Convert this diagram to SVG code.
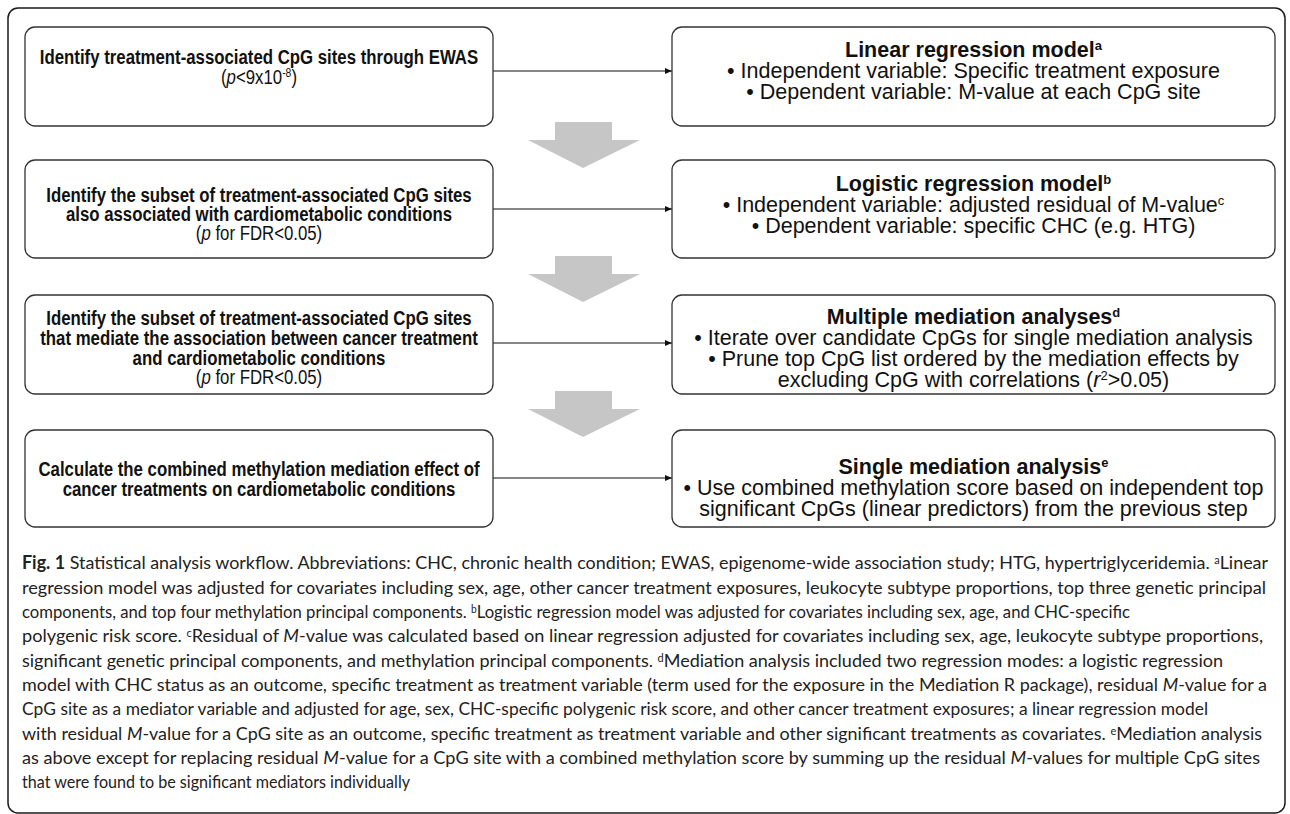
<svg xmlns="http://www.w3.org/2000/svg" width="1290" height="814" viewBox="0 0 1290 814">
<style>
.frame{fill:none;stroke:#1a1a1a;stroke-width:1.5}
.box{fill:#fff;stroke:#333;stroke-width:1.3}
.t{font-family:"Liberation Sans",Arial,sans-serif;font-size:21px;fill:#111;text-anchor:middle}
.r{font-size:21.5px}
.b{font-weight:bold}
.conn{stroke:#111;stroke-width:1.2;fill:none}
.flow{fill:#c6c6c6}
.cap{font-family:Lato,"Liberation Sans",sans-serif;font-size:18px;fill:#222}
</style>
<defs>
<marker id="ah" markerWidth="8" markerHeight="8" refX="7" refY="4" orient="auto" markerUnits="userSpaceOnUse"><path d="M0,1 L7,4 L0,7 Z" fill="#111"/></marker>
</defs>
<rect class="frame" x="8" y="8" width="1277" height="805" rx="10"/>

<g id="flow-arrows">
<polygon class="flow" points="555,122 612,122 612,140 640,140 583,168 528,140 555,140"/>
<polygon class="flow" points="555,256 612,256 612,274 640,274 583,302 528,274 555,274"/>
<polygon class="flow" points="555,391 612,391 612,409 640,409 583,437 528,409 555,409"/>
</g>

<g id="connectors">
<line class="conn" x1="493" y1="71" x2="672" y2="71" marker-end="url(#ah)"/>
<line class="conn" x1="493" y1="209" x2="672" y2="209" marker-end="url(#ah)"/>
<line class="conn" x1="493" y1="343" x2="672" y2="343" marker-end="url(#ah)"/>
<line class="conn" x1="493" y1="478" x2="672" y2="478" marker-end="url(#ah)"/>
</g>

<g id="step1">
<rect class="box" x="25" y="27" width="468" height="99" rx="10"/>
<g transform="translate(259,0) scale(0.8,1)">
<text class="t b" x="0" y="64">Identify treatment-associated CpG sites through EWAS</text>
<text class="t" x="0" y="84">(<tspan font-style="italic">p</tspan>&lt;9x10<tspan font-size="13" dy="-7">-8</tspan><tspan dy="7">)</tspan></text>
</g>
</g>
<g id="model1">
<rect class="box" x="672" y="27" width="603" height="99" rx="10"/>
<text class="t r b" x="973.5" y="57">Linear regression model<tspan font-size="13" dy="-7">a</tspan></text>
<text class="t r" x="973.5" y="78">• Independent variable: Specific treatment exposure</text>
<text class="t r" x="973.5" y="99">• Dependent variable: M-value at each CpG site</text>
</g>

<g id="step2">
<rect class="box" x="25" y="160" width="468" height="98" rx="10"/>
<g transform="translate(259,0) scale(0.8,1)">
<text class="t b" x="0" y="202">Identify the subset of treatment-associated CpG sites</text>
<text class="t b" x="0" y="221">also associated with cardiometabolic conditions</text>
<text class="t" x="0" y="240">(<tspan font-style="italic">p</tspan> for FDR&lt;0.05)</text>
</g>
</g>
<g id="model2">
<rect class="box" x="672" y="160" width="603" height="98" rx="10"/>
<text class="t r b" x="973.5" y="191">Logistic regression model<tspan font-size="13" dy="-7">b</tspan></text>
<text class="t r" x="973.5" y="212">• Independent variable: adjusted residual of M-value<tspan font-size="13" dy="-7">c</tspan></text>
<text class="t r" x="973.5" y="233">• Dependent variable: specific CHC (e.g. HTG)</text>
</g>

<g id="step3">
<rect class="box" x="25" y="295" width="468" height="99" rx="10"/>
<g transform="translate(259,0) scale(0.8,1)">
<text class="t b" x="0" y="325">Identify the subset of treatment-associated CpG sites</text>
<text class="t b" x="0" y="345">that mediate the association between cancer treatment</text>
<text class="t b" x="0" y="365">and cardiometabolic conditions</text>
<text class="t" x="0" y="384">(<tspan font-style="italic">p</tspan> for FDR&lt;0.05)</text>
</g>
</g>
<g id="model3">
<rect class="box" x="672" y="295" width="603" height="99" rx="10"/>
<text class="t r b" x="973.5" y="324">Multiple mediation analyses<tspan font-size="13" dy="-7">d</tspan></text>
<text class="t r" x="973.5" y="345">• Iterate over candidate CpGs for single mediation analysis</text>
<text class="t r" x="973.5" y="366">• Prune top CpG list ordered by the mediation effects by</text>
<text class="t r" x="973.5" y="387">excluding CpG with correlations (<tspan font-style="italic">r</tspan><tspan font-size="13" dy="-7">2</tspan><tspan dy="7">&gt;0.05)</tspan></text>
</g>

<g id="step4">
<rect class="box" x="25" y="430" width="468" height="97" rx="10"/>
<g transform="translate(259,0) scale(0.8,1)">
<text class="t b" x="0" y="476">Calculate the combined methylation mediation effect of</text>
<text class="t b" x="0" y="496">cancer treatments on cardiometabolic conditions</text>
</g>
</g>
<g id="model4">
<rect class="box" x="672" y="430" width="603" height="97" rx="10"/>
<text class="t r b" x="973.5" y="474">Single mediation analysis<tspan font-size="13" dy="-7">e</tspan></text>
<text class="t r" x="973.5" y="495">• Use combined methylation score based on independent top</text>
<text class="t r" x="973.5" y="516">significant CpGs (linear predictors) from the previous step</text>
</g>

<g id="caption">
<text class="cap" x="22" y="569" textLength="1246" lengthAdjust="spacingAndGlyphs"><tspan font-weight="bold">Fig. 1</tspan> Statistical analysis workflow. Abbreviations: CHC, chronic health condition; EWAS, epigenome-wide association study; HTG, hypertriglyceridemia. <tspan font-size="11" dy="-5">a</tspan><tspan dy="5">Linear</tspan></text>
<text class="cap" x="22" y="594" textLength="1244" lengthAdjust="spacingAndGlyphs">regression model was adjusted for covariates including sex, age, other cancer treatment exposures, leukocyte subtype proportions, top three genetic principal</text>
<text class="cap" x="22" y="618" textLength="1108" lengthAdjust="spacingAndGlyphs">components, and top four methylation principal components. <tspan font-size="11" dy="-5">b</tspan><tspan dy="5">Logistic regression model was adjusted for covariates including sex, age, and CHC-specific</tspan></text>
<text class="cap" x="22" y="642" textLength="1241" lengthAdjust="spacingAndGlyphs">polygenic risk score. <tspan font-size="11" dy="-5">c</tspan><tspan dy="5">Residual of </tspan><tspan font-style="italic">M</tspan>-value was calculated based on linear regression adjusted for covariates including sex, age, leukocyte subtype proportions,</text>
<text class="cap" x="22" y="667" textLength="1201" lengthAdjust="spacingAndGlyphs">significant genetic principal components, and methylation principal components. <tspan font-size="11" dy="-5">d</tspan><tspan dy="5">Mediation analysis included two regression modes: a logistic regression</tspan></text>
<text class="cap" x="22" y="691" textLength="1245" lengthAdjust="spacingAndGlyphs">model with CHC status as an outcome, specific treatment as treatment variable (term used for the exposure in the Mediation R package), residual <tspan font-style="italic">M</tspan>-value for a</text>
<text class="cap" x="22" y="715" textLength="1186" lengthAdjust="spacingAndGlyphs">CpG site as a mediator variable and adjusted for age, sex, CHC-specific polygenic risk score, and other cancer treatment exposures; a linear regression model</text>
<text class="cap" x="22" y="740" textLength="1240" lengthAdjust="spacingAndGlyphs">with residual <tspan font-style="italic">M</tspan>-value for a CpG site as an outcome, specific treatment as treatment variable and other significant treatments as covariates. <tspan font-size="11" dy="-5">e</tspan><tspan dy="5">Mediation analysis</tspan></text>
<text class="cap" x="22" y="764" textLength="1238" lengthAdjust="spacingAndGlyphs">as above except for replacing residual <tspan font-style="italic">M</tspan>-value for a CpG site with a combined methylation score by summing up the residual <tspan font-style="italic">M</tspan>-values for multiple CpG sites</text>
<text class="cap" x="22" y="788" textLength="388" lengthAdjust="spacingAndGlyphs">that were found to be significant mediators individually</text>
</g>
</svg>
